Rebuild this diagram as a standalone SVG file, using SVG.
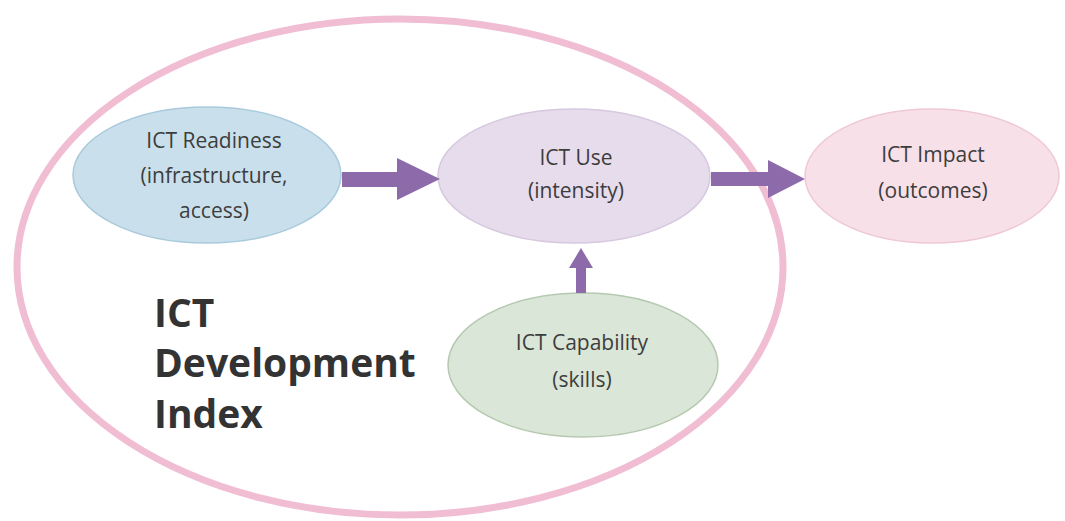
<svg xmlns="http://www.w3.org/2000/svg" width="1065" height="521" viewBox="0 0 1065 521">
<defs>
<style>
.lbl{font-family:"Open Sans","Noto Sans",sans-serif;font-size:21px;fill:#3d3d3d;text-anchor:middle}
.big{font-family:"Open Sans","Noto Sans",sans-serif;font-size:39px;font-weight:bold;fill:#333333}
.arrow{fill:#8d6bab}
</style>
</defs>
<rect width="1065" height="521" fill="#ffffff"/>
<g id="idi-boundary">
<ellipse cx="400" cy="267" rx="383" ry="248" fill="none" stroke="#f0bdd2" stroke-width="7"/>
</g>
<g id="readiness">
<ellipse cx="207" cy="175" rx="134" ry="68" fill="#c9e0ec" stroke="#a9cadc" stroke-width="1.5"/>
<text class="lbl" x="214" y="148">ICT Readiness</text>
<text class="lbl" x="214" y="183">(infrastructure,</text>
<text class="lbl" x="214" y="218">access)</text>
</g>
<g id="use">
<ellipse cx="574" cy="176" rx="136" ry="67" fill="#e7dcec" stroke="#d6c8de" stroke-width="1.5"/>
<text class="lbl" x="576" y="165">ICT Use</text>
<text class="lbl" x="576" y="198">(intensity)</text>
</g>
<g id="impact">
<ellipse cx="932" cy="176" rx="127" ry="67" fill="#f8e0e9" stroke="#efc8d6" stroke-width="1.5"/>
<text class="lbl" x="933" y="162">ICT Impact</text>
<text class="lbl" x="933" y="198">(outcomes)</text>
</g>
<g id="capability">
<ellipse cx="583" cy="365" rx="135" ry="72" fill="#dae6d7" stroke="#b5c9b0" stroke-width="1.5"/>
<text class="lbl" x="582" y="350">ICT Capability</text>
<text class="lbl" x="582" y="387">(skills)</text>
</g>
<g id="title">
<text class="big" x="154" y="327">ICT</text>
<text class="big" x="154" y="377">Development</text>
<text class="big" x="154" y="428">Index</text>
</g>
<g id="connectors">
<polygon class="arrow" points="342,172 397,172 397,158 440,179 397,200 397,187 342,187"/>
<polygon class="arrow" points="711,172 768,172 768,160 805,179 768,198 768,186 711,186"/>
<polygon class="arrow" points="576,293 576,268 569,268 581,248 593,268 586,268 586,293"/>
</g>
</svg>
